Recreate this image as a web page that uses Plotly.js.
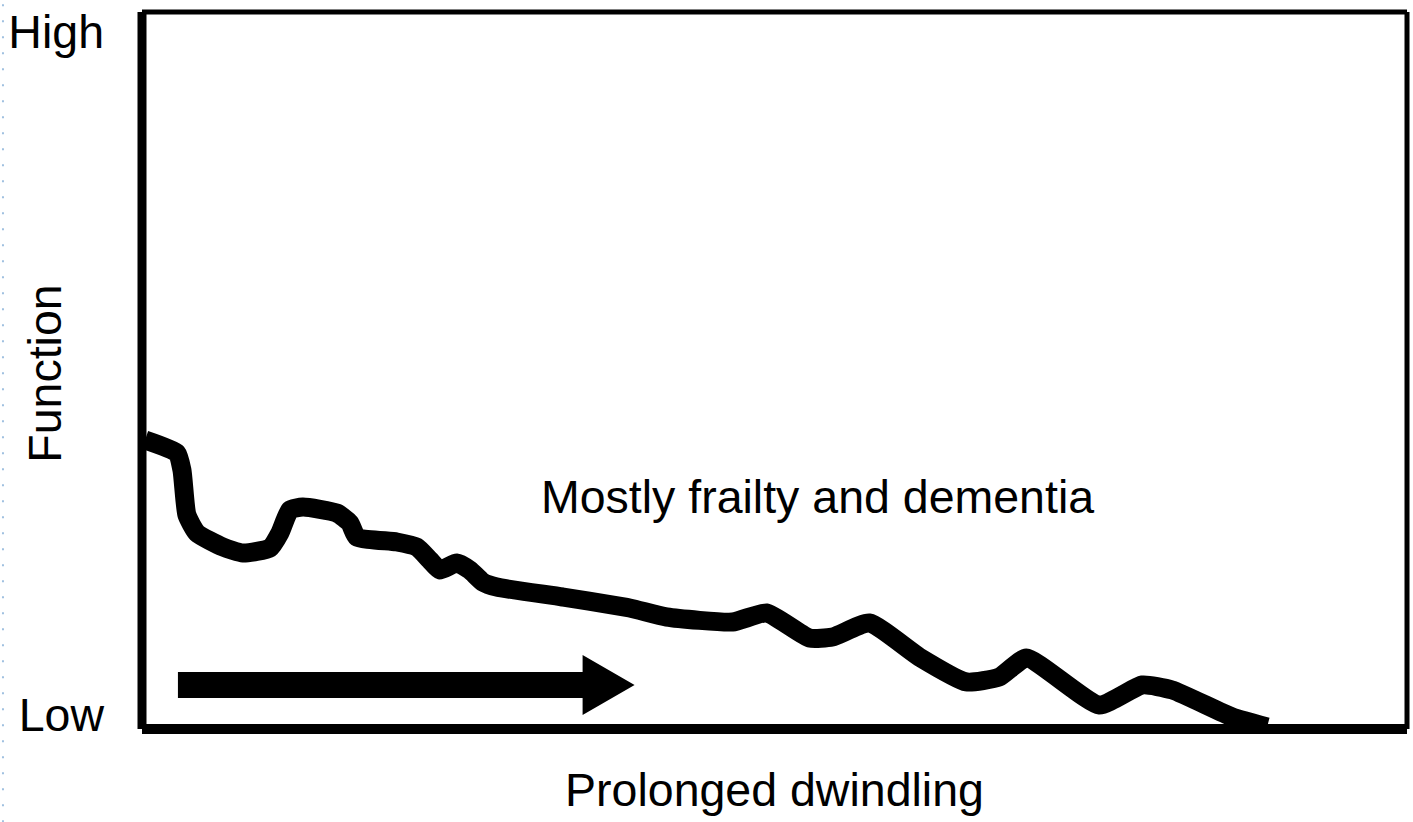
<!DOCTYPE html>
<html><head><meta charset="utf-8">
<script src="https://cdn.plot.ly/plotly-3.0.1.min.js"></script>
<style>html,body{margin:0;padding:0;background:#fff;overflow:hidden}#chart{width:1413px;height:822px}</style>
</head><body><div id="chart"></div>
<script>
// Function trajectory (x: time 0-100, y: function level, Low=0 .. High=100)
const curveX = [0.24, 2.76, 3.16, 3.55, 4.34, 6.40, 7.98, 10.11, 10.90, 11.69, 12.72, 15.40, 16.43, 16.98, 20.14, 21.72, 22.75, 23.54, 24.88, 25.91, 26.94, 28.04, 33.25, 38.55, 41.47, 46.68, 49.37, 52.76, 54.58, 57.50, 61.45, 65.17, 67.77, 69.91, 75.67, 79.07, 81.44, 86.18, 88.94];
const curveY = [40.31, 38.49, 36.12, 29.85, 27.34, 25.38, 24.55, 25.24, 27.34, 30.54, 30.96, 30.13, 28.73, 26.78, 26.08, 25.38, 23.57, 22.18, 23.15, 22.18, 20.50, 19.80, 18.41, 16.88, 15.62, 14.92, 16.18, 12.69, 12.83, 14.78, 10.04, 6.56, 7.25, 9.90, 3.35, 6.14, 5.44, 1.67, 0.28];

const yTickVals = [1.95, 97.2];
const yTickText = ['Low', 'High'];
const xTitleText = 'Prolonged dwindling';
const yTitleText = 'Function';
const noteText = 'Mostly frailty and dementia';
const noteX = [53.4];
const noteY = [32.4];

// time arrow: tail, head base, tip (x) and centre line (y)
const arrowX = [2.84, 34.83, 38.94];
const arrowY = [6.14];

// ---- styles ----
const FONT = 'Liberation Sans, Arial, Helvetica, sans-serif';
const FS = 46.5;
const shaftHalf = 1.81;  // data units
const headHalf = 4.19;

const ax0 = arrowX[0], ax1 = arrowX[1], ax2 = arrowX[2], ay = arrowY[0];
const arrowPath = 'M' + ax0 + ',' + (ay + shaftHalf) + ' L' + ax1 + ',' + (ay + shaftHalf) +
  ' L' + ax1 + ',' + (ay + headHalf) + ' L' + ax2 + ',' + ay + ' L' + ax1 + ',' + (ay - headHalf) +
  ' L' + ax1 + ',' + (ay - shaftHalf) + ' L' + ax0 + ',' + (ay - shaftHalf) + ' Z';

const traces = [{
  type: 'scatter', mode: 'lines', x: curveX, y: curveY,
  line: {color: '#000', width: 19, shape: 'spline', smoothing: 0.5},
  hoverinfo: 'skip', showlegend: false
}];

const layout = {
  width: 1413, height: 822,
  margin: {l: 142, r: 6, t: 12, b: 93, pad: 0},
  paper_bgcolor: '#fff', plot_bgcolor: '#fff',
  showlegend: false,
  font: {family: FONT, size: FS, color: '#000'},
  xaxis: {
    range: [0, 100], showgrid: false, zeroline: false, showline: false,
    showticklabels: false, ticks: '', fixedrange: true,
    title: {text: xTitleText, font: {family: FONT, size: FS, color: '#000'}, standoff: 44}
  },
  yaxis: {
    range: [0, 100], showgrid: false, zeroline: false, showline: false,
    ticks: '', tickvals: yTickVals, ticktext: yTickText, ticklabelstandoff: 37,
    tickfont: {family: FONT, size: FS, color: '#000'}, fixedrange: true
  },
  annotations: [
    {text: noteText, x: noteX[0], y: noteY[0], xref: 'x', yref: 'y', showarrow: false,
     xanchor: 'center', yanchor: 'middle', font: {family: FONT, size: FS, color: '#000'}},
    {text: yTitleText, x: -0.0767, y: 0.4955, xref: 'paper', yref: 'paper', showarrow: false,
     textangle: -90, xanchor: 'center', yanchor: 'middle', font: {family: FONT, size: FS, color: '#000'}}
  ],
  shapes: [
    {type: 'path', xref: 'x', yref: 'y', path: arrowPath, fillcolor: '#000', line: {width: 0}},
    {type: 'line', xref: 'paper', yref: 'paper', x0: 0, x1: 0, y0: 0, y1: 1, line: {color: '#000', width: 9}},
    {type: 'line', xref: 'paper', yref: 'paper', x0: 0, x1: 1, y0: 0, y1: 0, line: {color: '#000', width: 10}},
    {type: 'line', xref: 'paper', yref: 'paper', x0: 0, x1: 1, y0: 1, y1: 1, line: {color: '#000', width: 5}},
    {type: 'line', xref: 'paper', yref: 'paper', x0: 1, x1: 1, y0: 0, y1: 1, line: {color: '#000', width: 5}},
    {type: 'line', xref: 'paper', yref: 'paper', x0: -0.1099, x1: -0.1099, y0: -0.13, y1: 1.02,
     line: {color: '#9fc0e0', width: 2, dash: '2px,14px'}}
  ]
};

Plotly.newPlot('chart', traces, layout, {staticPlot: true, displayModeBar: false});
</script>
</body></html>
